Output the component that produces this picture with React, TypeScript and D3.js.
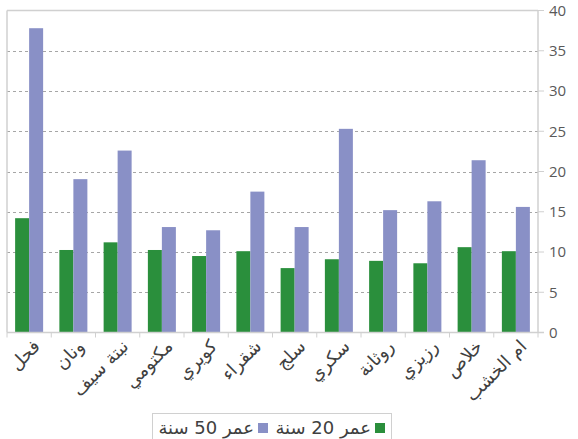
import React from "react";
import * as d3 from "d3";

const categories = ["فحل", "ونان", "نبتة سيف", "مكتومي", "كويري", "شقراء", "سلج", "سكري", "روثانة", "رزيزي", "خلاص", "ام الخشب"];
const seriesGreen = [14.2, 10.25, 11.2, 10.25, 9.5, 10.1, 8.0, 9.1, 8.9, 8.6, 10.6, 10.1];
const seriesPurple = [37.8, 19.05, 22.6, 13.1, 12.7, 17.5, 13.1, 25.3, 15.2, 16.3, 21.4, 15.6];
const yTicks = [0, 5, 10, 15, 20, 25, 30, 35, 40];
const legendGreen = "عمر 20 سنة";
const legendPurple = "عمر 50 سنة";

const GREEN = "#2a8f3c";
const PURPLE = "#8990c6";

export default function App() {
  const W = 578, H = 439;
  const left = 7, right = 538, top = 10.5, bottom = 332.5;
  const x = d3.scaleBand<string>().domain(categories).range([left, right]).paddingInner(0).paddingOuter(0);
  const y = d3.scaleLinear().domain([0, 40]).range([bottom, top]);
  const bw = x.bandwidth();
  const barW = 14;
  const off = (bw - 2 * barW) / 2;

  return (
    <svg width={W} height={H} style={{ position: "absolute", left: 0, top: 0, background: "#fff" }}>
      {yTicks.filter(t => t > 0 && t < 40).map(t => (
        <line key={"g" + t} x1={left} x2={right} y1={Math.round(y(t)) + 0.5} y2={Math.round(y(t)) + 0.5}
          stroke="#a6a6a6" strokeWidth={1} strokeDasharray="3,3" />
      ))}
      <line x1={left} x2={right} y1={top} y2={top} stroke="#d0d0d0" strokeWidth={1.5} />
      <line x1={left} x2={left} y1={top} y2={bottom} stroke="#d0d0d0" strokeWidth={1.5} />
      {categories.map((c, i) => (
        <g key={c}>
          <rect x={(x(c) as number) + off} y={y(seriesGreen[i])} width={barW} height={bottom - y(seriesGreen[i])} fill={GREEN} />
          <rect x={(x(c) as number) + off + barW} y={y(seriesPurple[i])} width={barW} height={bottom - y(seriesPurple[i])} fill={PURPLE} />
        </g>
      ))}
      <line x1={right} x2={right} y1={top} y2={bottom} stroke="#d0d0d0" strokeWidth={1.5} />
      {yTicks.map(t => (
        <g key={"t" + t}>
          <line x1={right} x2={right + 6} y1={y(t)} y2={y(t)} stroke="#d0d0d0" strokeWidth={1} />
          <text x={549} y={y(t)} dy="0.35em" fontFamily="Open Sans, sans-serif" fontSize={15} fill="#595959">{t}</text>
        </g>
      ))}
      <line x1={left} x2={right + 6} y1={bottom} y2={bottom} stroke="#d0d0d0" strokeWidth={1.5} />
      {categories.map((c, i) => (
        <line key={"bt" + i} x1={(x(c) as number)} x2={(x(c) as number)} y1={bottom} y2={bottom + 5} stroke="#d0d0d0" strokeWidth={1} />
      ))}
      <line x1={right} x2={right} y1={bottom} y2={bottom + 5} stroke="#d0d0d0" strokeWidth={1} />
      {categories.map(c => {
        const cx = (x(c) as number) + bw / 2 + 12;
        const cy = bottom + 15;
        return (
          <text key={"l" + c} x={cx} y={cy} transform={`rotate(-45,${cx},${cy})`} textAnchor="end"
            fontFamily="DejaVu Sans, sans-serif" fontSize={18} fill="#404040">{c}</text>
        );
      })}
      <rect x={152.5} y={413.5} width={239} height={40} fill="#fff" stroke="#d0d0d0" strokeWidth={1} />
      <rect x={375} y={423} width={10} height={10} fill={GREEN} />
      <text x={371} y={434} textAnchor="end" fontFamily="DejaVu Sans, sans-serif" fontSize={18} fill="#404040">{legendGreen}</text>
      <rect x={258} y={423} width={10} height={10} fill={PURPLE} />
      <text x={254} y={434} textAnchor="end" fontFamily="DejaVu Sans, sans-serif" fontSize={18} fill="#404040">{legendPurple}</text>
    </svg>
  );
}
